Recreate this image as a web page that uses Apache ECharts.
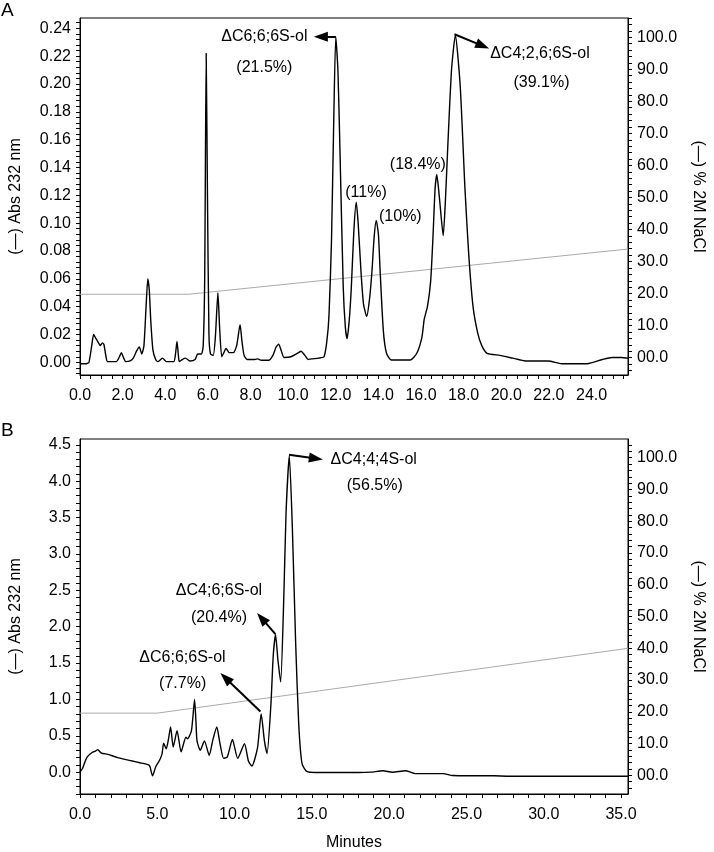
<!DOCTYPE html>
<html>
<head>
<meta charset="utf-8">
<script src="https://cdn.jsdelivr.net/npm/echarts@6/dist/echarts.min.js"></script>
<style>
html,body{margin:0;padding:0;background:#fff;}
#c{width:714px;height:852px;}
</style>
</head>
<body>
<div id="c"></div>
<script>
// ---------- DATA ----------
// Panel A chromatogram: [minutes, Abs 232 nm]
var traceA = [
[0.0,-0.001],[0.3,-0.001],[0.42,0.0],[0.55,0.012],[0.64,0.020],[0.75,0.017],[0.87,0.014],[0.95,0.012],
[1.05,0.014],[1.12,0.013],[1.22,0.004],[1.29,0.0005],[1.7,0.0005],[1.85,0.004],[1.94,0.007],[2.05,0.003],
[2.15,0.0005],[2.35,0.001],[2.5,0.003],[2.65,0.008],[2.78,0.011],[2.9,0.006],[3.0,0.012],[3.1,0.040],
[3.18,0.060],[3.25,0.052],[3.32,0.030],[3.42,0.009],[3.55,0.002],[3.65,0.0005],[3.87,0.003],[4.05,0.0005],
[4.4,0.0005],[4.48,0.006],[4.55,0.015],[4.61,0.006],[4.66,0.0005],[4.8,0.002],[4.95,0.003],[5.15,0.001],
[5.4,0.002],[5.52,0.006],[5.7,0.006],[5.78,0.012],[5.85,0.06],[5.92,0.222],[5.98,0.12],[6.05,0.02],
[6.12,0.006],[6.25,0.005],[6.35,0.018],[6.47,0.050],[6.55,0.025],[6.65,0.004],[6.75,0.007],[6.85,0.010],
[7.0,0.007],[7.2,0.007],[7.35,0.012],[7.51,0.027],[7.6,0.015],[7.7,0.005],[7.85,0.002],[8.2,0.002],
[8.35,0.0025],[8.5,0.0015],[8.85,0.0015],[9.05,0.005],[9.2,0.011],[9.32,0.013],[9.45,0.008],[9.57,0.0035],
[9.9,0.004],[10.15,0.006],[10.37,0.008],[10.55,0.005],[10.7,0.002],[10.86,0.0025],[11.2,0.003],[11.45,0.004],
[11.58,0.015],[11.68,0.033],[11.8,0.088],[11.9,0.17],[12.0,0.234],[12.1,0.21],[12.2,0.150],[12.35,0.054],
[12.45,0.025],[12.53,0.017],[12.63,0.030],[12.73,0.054],[12.85,0.095],[12.96,0.115],[13.05,0.100],[13.18,0.066],
[13.3,0.042],[13.45,0.033],[13.58,0.045],[13.7,0.066],[13.8,0.090],[13.9,0.102],[14.0,0.092],[14.08,0.066],
[14.23,0.023],[14.38,0.0065],[14.6,0.0017],[15.5,0.0017],[15.8,0.0065],[16.04,0.018],[16.15,0.031],[16.3,0.040],
[16.45,0.058],[16.56,0.090],[16.66,0.125],[16.74,0.135],[16.82,0.125],[16.9,0.112],[17.04,0.091],[17.14,0.115],
[17.24,0.150],[17.43,0.210],[17.61,0.235],[17.84,0.198],[18.06,0.125],[18.24,0.077],[18.44,0.040],[18.66,0.021],
[18.85,0.012],[19.1,0.0065],[19.7,0.005],[20.3,0.003],[20.9,0.001],[21.97,0.001],[22.6,-0.001],[23.8,-0.001],
[24.5,0.002],[24.97,0.0035],[25.4,0.0035],[25.71,0.003]
];
// Panel A gradient: [minutes, % 2M NaCl]
var naclA = [[0,19.8],[5.1,19.8],[25.71,33.9]];

// Panel B chromatogram
var traceB = [
[0.0,0.0],[0.16,0.05],[0.3,0.13],[0.47,0.21],[0.78,0.27],[1.0,0.29],[1.15,0.31],[1.25,0.29],[1.4,0.26],
[1.81,0.245],[2.43,0.20],[3.25,0.16],[3.87,0.13],[4.44,0.10],[4.53,0.075],[4.69,-0.05],[4.9,0.075],[5.14,0.16],
[5.31,0.255],[5.41,0.40],[5.58,0.32],[5.72,0.45],[5.86,0.62],[6.03,0.345],[6.28,0.57],[6.54,0.28],[6.85,0.48],
[6.96,0.46],[7.2,0.56],[7.3,0.75],[7.41,1.0],[7.5,0.70],[7.57,0.43],[7.78,0.30],[8.05,0.43],[8.36,0.23],
[8.6,0.45],[8.85,0.62],[9.05,0.40],[9.29,0.19],[9.53,0.21],[9.86,0.45],[10.2,0.19],[10.64,0.39],[10.9,0.15],
[11.12,0.085],[11.48,0.33],[11.72,0.80],[11.93,0.43],[12.1,0.255],[12.35,0.93],[12.5,1.6],[12.65,1.89],
[12.8,1.55],[12.98,1.24],[13.19,2.45],[13.33,3.57],[13.54,4.35],[13.74,3.34],[13.95,1.78],[14.15,0.66],
[14.36,0.12],[14.67,0.01],[15.3,-0.005],[18.0,-0.005],[18.8,0.0],[19.6,0.02],[20.2,0.0],[21.05,0.02],
[21.7,-0.02],[23.5,-0.02],[24.1,-0.045],[26.8,-0.05],[27.8,-0.055],[35.45,-0.055]
];
var naclB = [[0,19.6],[5.0,19.6],[35.45,40.0]];

// Tick labels
var xLabelsA = [0,2,4,6,8,10,12,14,16,18,20,22,24];
var yLabelsA = [0,0.02,0.04,0.06,0.08,0.10,0.12,0.14,0.16,0.18,0.20,0.22,0.24];
var rLabels  = [0,10,20,30,40,50,60,70,80,90,100];
var xLabelsB = [0,5,10,15,20,25,30,35];
var yLabelsB = [0,0.5,1.0,1.5,2.0,2.5,3.0,3.5,4.0,4.5];

// Annotations: [text, minutes, value]
var textA = [
 ['\u0394C6;6;6S-ol', 8.65, 0.234],
 ['(21.5%)', 8.65, 0.2118],
 ['\u0394C4;2,6;6S-ol', 21.58, 0.222],
 ['(39.1%)', 21.65, 0.2013],
 ['(11%)', 13.42, 0.1217],
 ['(10%)', 15.03, 0.1044],
 ['(18.4%)', 15.85, 0.1418]
];
var arrowsA = [
 [[12.01,0.234],[11.30,0.234]],
 [[17.57,0.2357],[18.89,0.2274]]
];
var textB = [
 ['\u0394C4;4;4S-ol', 19.0, 4.30],
 ['(56.5%)', 19.07, 3.94],
 ['\u0394C4;6;6S-ol', 8.99, 2.50],
 ['(20.4%)', 8.99, 2.12],
 ['\u0394C6;6;6S-ol', 6.63, 1.57],
 ['(7.7%)', 6.64, 1.22]
];
var arrowsB = [
 [[13.52,4.365],[15.26,4.311]],
 [[12.64,1.898],[11.75,2.117]],
 [[11.67,0.834],[9.41,1.295]]
];

// ---------- CHART ----------
var FONT = '"Liberation Sans", Arial, sans-serif';
var FS = 16;

function steps(a, b, d) {
  var out = [];
  var n = Math.round((b - a) / d);
  for (var i = 0; i <= n; i++) out.push(+(a + i * d).toFixed(6));
  return out;
}

function xAxisCfg(grid, max, labels, tickStep, name) {
  return {
    gridIndex: grid, type: 'value', min: 0, max: max,
    name: name || '', nameLocation: 'middle', nameGap: 41,
    nameTextStyle: {fontSize: FS, color: '#000', fontFamily: FONT},
    axisLine: {show: true, onZero: false, lineStyle: {color: '#000', width: 1}},
    axisTick: {show: true, customValues: steps(0, max, tickStep), length: 4, inside: false, lineStyle: {color: '#000'}},
    axisLabel: {customValues: labels, formatter: function (v) { return v.toFixed(1); }, margin: 13,
      fontSize: FS, color: '#000', fontFamily: FONT},
    splitLine: {show: false}
  };
}
function yAxisCfg(grid, pos, min, max, labels, tickFrom, tickTo, tickStep, fmt, name, rot, gap) {
  return {
    gridIndex: grid, type: 'value', position: pos, min: min, max: max,
    name: name, nameLocation: 'middle', nameRotate: rot, nameGap: gap,
    nameTextStyle: {fontSize: FS, color: '#000', fontFamily: FONT},
    axisLine: {show: true, lineStyle: {color: '#000', width: 1}},
    axisTick: {show: true, customValues: steps(tickFrom, tickTo, tickStep), length: 4, inside: false, lineStyle: {color: '#000'}},
    axisLabel: {customValues: labels, formatter: fmt, margin: 9, fontSize: FS, color: '#000', fontFamily: FONT},
    splitLine: {show: false}
  };
}
function fmtR(v) { return v === 0 ? '00.0' : v.toFixed(1); }

function marks(texts, arrows) {
  return {
    markPoint: {
      silent: true, animation: false,
      symbol: 'circle', symbolSize: 1,
      itemStyle: {color: 'rgba(0,0,0,0)'},
      label: {show: true, position: 'inside', color: '#000', fontSize: FS, fontFamily: FONT},
      data: texts.map(function (t) {
        return {coord: [t[1], t[2]], label: {formatter: t[0]}};
      })
    },
    markLine: {
      silent: true, animation: false,
      symbol: ['none', 'triangle'], symbolSize: [10, 14],
      lineStyle: {color: '#000', width: 2, type: 'solid'},
      label: {show: false},
      data: arrows.map(function (a) {
        return [{coord: a[0]}, {coord: a[1]}];
      })
    }
  };
}

var sA = {type: 'line', xAxisIndex: 0, yAxisIndex: 0, data: traceA, showSymbol: false, symbol: 'none',
  smooth: 0.2, lineStyle: {color: '#000', width: 1.4}, z: 3};
Object.assign(sA, marks(textA, arrowsA));
var sB = {type: 'line', xAxisIndex: 1, yAxisIndex: 2, data: traceB, showSymbol: false, symbol: 'none',
  smooth: 0.2, lineStyle: {color: '#000', width: 1.4}, z: 3};
Object.assign(sB, marks(textB, arrowsB));

var option = {
  animation: false,
  backgroundColor: '#fff',
  textStyle: {fontFamily: FONT},
  grid: [
    {left: 69, top: 18, width: 571, height: 357, show: true, borderColor: '#000', borderWidth: 1, backgroundColor: 'transparent'},
    {left: 69, top: 439, width: 574, height: 363, show: true, borderColor: '#000', borderWidth: 1, backgroundColor: 'transparent'}
  ],
  xAxis: [
    xAxisCfg(0, 25.71, xLabelsA, 0.5),
    xAxisCfg(1, 35.45, xLabelsB, 1, 'Minutes')
  ],
  yAxis: [
    yAxisCfg(0, 'left', -0.0091, 0.2474, yLabelsA, -0.008, 0.244, 0.004, function (v) { return v.toFixed(2); }, '(\u2014) Abs 232 nm', 90, 56),
    yAxisCfg(0, 'right', -5.4, 106.0, rLabels, -4, 106, 2, fmtR, '(\u2014) % 2M NaCl', -90, 62),
    yAxisCfg(1, 'left', -0.30, 4.58, yLabelsB, -0.3, 4.5, 0.1, function (v) { return v.toFixed(1); }, '(\u2014) Abs 232 nm', 90, 56),
    yAxisCfg(1, 'right', -5.86, 105.9, rLabels, -4, 104, 2, fmtR, '(\u2014) % 2M NaCl', -90, 62)
  ],
  graphic: [
    {type: 'text', left: 1, top: 1, style: {text: 'A', fontSize: 19, fill: '#000', fontFamily: FONT}},
    {type: 'text', left: 1, top: 421, style: {text: 'B', fontSize: 19, fill: '#000', fontFamily: FONT}}
  ],
  series: [
    {type: 'line', xAxisIndex: 0, yAxisIndex: 1, data: naclA, showSymbol: false, symbol: 'none',
     lineStyle: {color: '#aaaaaa', width: 1}, z: 2},
    sA,
    {type: 'line', xAxisIndex: 1, yAxisIndex: 3, data: naclB, showSymbol: false, symbol: 'none',
     lineStyle: {color: '#aaaaaa', width: 1}, z: 2},
    sB
  ]
};
var chart = echarts.init(document.getElementById('c'), null, {renderer: 'canvas'});
chart.setOption(option);
</script>
</body>
</html>
